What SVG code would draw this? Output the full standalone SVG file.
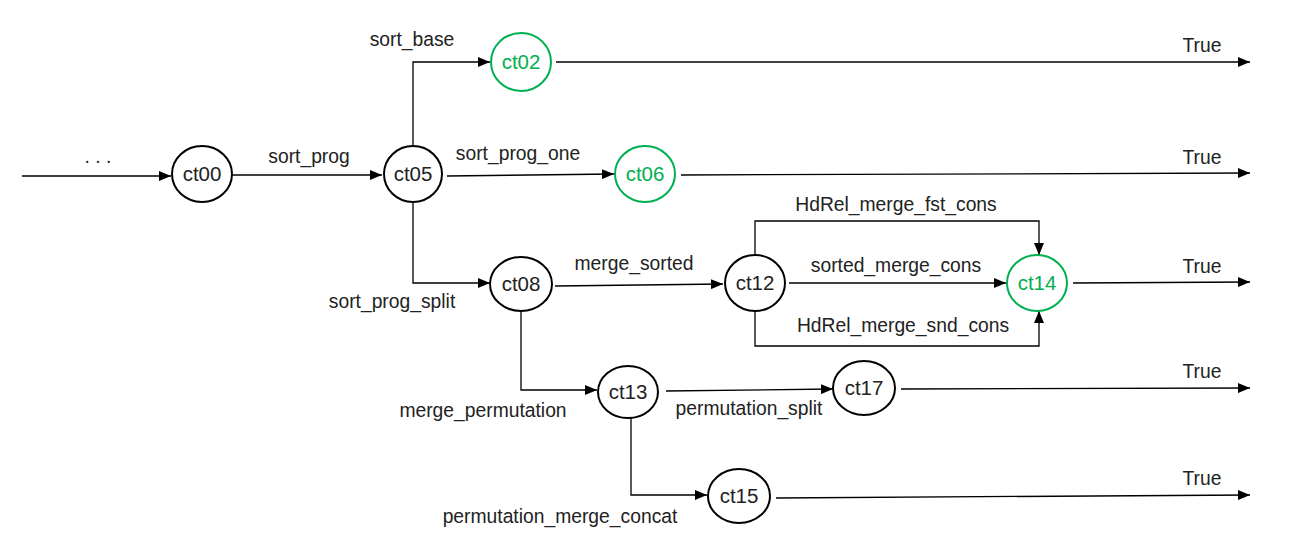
<svg xmlns="http://www.w3.org/2000/svg" width="1290" height="551" viewBox="0 0 1290 551">
  <defs>
    <marker id="arrow" viewBox="0 0 12 10" refX="12" refY="5" markerWidth="12" markerHeight="10" markerUnits="userSpaceOnUse" orient="auto">
      <path d="M0,0 L12,5 L0,10 Z" fill="#000"/>
    </marker>
    <style>
      .node ellipse { fill: #fff; stroke: #000; stroke-width: 2; }
      .node text { font-family: "Liberation Sans", Arial, sans-serif; font-size: 20.5px; fill: #222; text-anchor: middle; }
      .node.final ellipse { stroke: #00b050; }
      .node.final text { fill: #00b050; }
      .edge { fill: none; stroke: #000; stroke-width: 1.3; marker-end: url(#arrow); }
      .label { font-family: "Liberation Sans", Arial, sans-serif; font-size: 19.3px; fill: #222; text-anchor: middle; }
    </style>
  </defs>

  <g id="connectors">
    <path class="edge" d="M22,176 L171,176"/>
    <path class="edge" d="M232,175 L382,175"/>
    <path class="edge" d="M413,146 L413,62 L490,62"/>
    <path class="edge" d="M447,176 L614,174"/>
    <path class="edge" d="M413,202 L413,283 L490,283"/>
    <path class="edge" d="M556,62 L1250,62"/>
    <path class="edge" d="M681,175 L1250,173"/>
    <path class="edge" d="M555,286 L723,284"/>
    <path class="edge" d="M521,311 L521,390 L597,390"/>
    <path class="edge" d="M755,255 L755,221 L1039,221 L1039,255"/>
    <path class="edge" d="M789,283 L1006,283"/>
    <path class="edge" d="M755,311 L755,346 L1039,346 L1039,311"/>
    <path class="edge" d="M1073,283 L1250,282"/>
    <path class="edge" d="M666,391 L833,389"/>
    <path class="edge" d="M631,418 L631,495 L707,495"/>
    <path class="edge" d="M901,389 L1250,388"/>
    <path class="edge" d="M776,498 L1250,495"/>

    <text class="label" x="98" y="163">. . .</text>
    <text class="label" x="309" y="163">sort_prog</text>
    <text class="label" x="412" y="46">sort_base</text>
    <text class="label" x="518" y="160">sort_prog_one</text>
    <text class="label" x="392" y="308">sort_prog_split</text>
    <text class="label" x="634" y="270">merge_sorted</text>
    <text class="label" x="483" y="417">merge_permutation</text>
    <text class="label" x="896" y="211">HdRel_merge_fst_cons</text>
    <text class="label" x="896" y="272">sorted_merge_cons</text>
    <text class="label" x="903" y="332">HdRel_merge_snd_cons</text>
    <text class="label" x="749" y="415">permutation_split</text>
    <text class="label" x="560" y="523">permutation_merge_concat</text>
    <text class="label" x="1202" y="52">True</text>
    <text class="label" x="1202" y="164">True</text>
    <text class="label" x="1202" y="273">True</text>
    <text class="label" x="1202" y="378">True</text>
    <text class="label" x="1202" y="485">True</text>
  </g>

  <g id="ct00" class="node"><ellipse cx="202" cy="174" rx="30" ry="28"/><text x="202" y="181">ct00</text></g>
  <g id="ct05" class="node"><ellipse cx="413" cy="174" rx="29" ry="28"/><text x="413" y="181">ct05</text></g>
  <g id="ct02" class="node final"><ellipse cx="521" cy="62" rx="30" ry="29"/><text x="521" y="69">ct02</text></g>
  <g id="ct06" class="node final"><ellipse cx="645" cy="174" rx="30" ry="28"/><text x="645" y="181">ct06</text></g>
  <g id="ct08" class="node"><ellipse cx="521" cy="284" rx="31" ry="27"/><text x="521" y="291">ct08</text></g>
  <g id="ct12" class="node"><ellipse cx="755" cy="283" rx="30" ry="28"/><text x="755" y="290">ct12</text></g>
  <g id="ct14" class="node final"><ellipse cx="1037" cy="283" rx="30" ry="28"/><text x="1037" y="290">ct14</text></g>
  <g id="ct13" class="node"><ellipse cx="628" cy="392" rx="30" ry="26"/><text x="628" y="399">ct13</text></g>
  <g id="ct17" class="node"><ellipse cx="864" cy="388" rx="31" ry="27"/><text x="864" y="395">ct17</text></g>
  <g id="ct15" class="node"><ellipse cx="739" cy="496" rx="31" ry="27"/><text x="739" y="503">ct15</text></g>
</svg>
